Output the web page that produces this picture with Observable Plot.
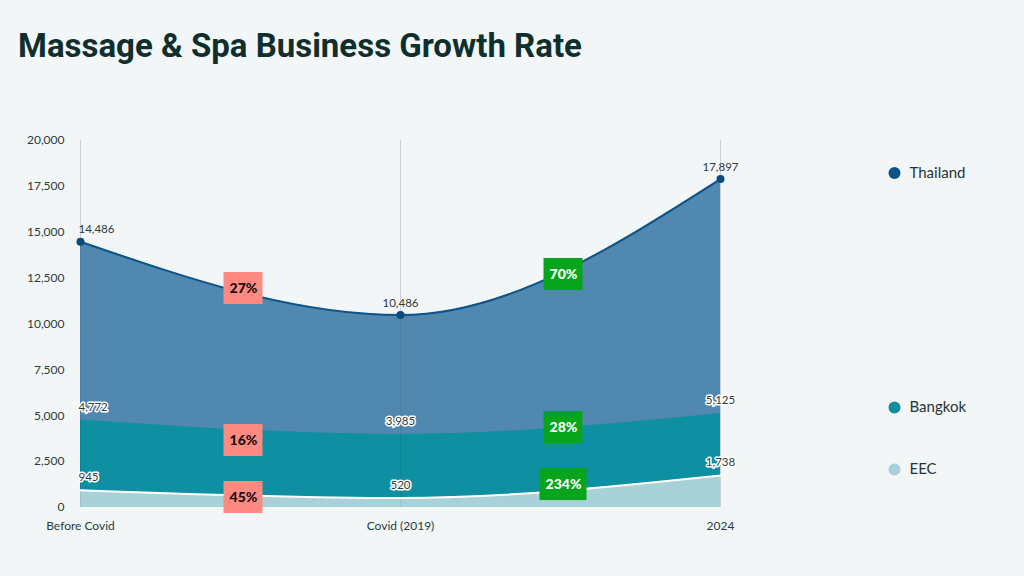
<!DOCTYPE html>
<html>
<head>
<meta charset="utf-8">
<script src="https://cdn.jsdelivr.net/npm/d3@7"></script>
<script src="https://cdn.jsdelivr.net/npm/@observablehq/plot@0.6"></script>
<style>
  html, body { margin: 0; padding: 0; background: #f2f6f7; }
  body { width: 1024px; height: 576px; overflow: hidden; }
  #title { height: 100px; box-sizing: border-box; padding: 26px 0 0 18px; margin: 0;
    font-family: Roboto, sans-serif; font-weight: 700; font-size: 33px; color: #0e2f2e; line-height: 40px; }
  #chart svg { display: block; }
</style>
</head>
<body>
<h1 id="title">Massage &amp; Spa Business Growth Rate</h1>
<div id="chart"></div>
<script>
const periods = ["Before Covid", "Covid (2019)", "2024"];
const thailand = [14486, 10486, 17897];
const bangkok = [4772, 3985, 5125];
const eec = [945, 520, 1738];
const seriesNames = ["Thailand", "Bangkok", "EEC"];
const seriesColors = ["#0b5389", "#0e8f9e", "#a8d1d8"];
// growth-rate badges between periods: [before→covid, covid→2024]
const changeLabels = [["27%", "70%"], ["16%", "28%"], ["45%", "234%"]];
const changeDown = [[true, false], [true, false], [true, false]];
// vertical level (in values) where each badge sits
const changeLevels = [[11935, 12700], [3650, 4360], [545, 1250]];
const yTicks = [0, 2500, 5000, 7500, 10000, 12500, 15000, 17500, 20000];

const W = 1024, H = 476, mt = 40, mb = 69, ml = 80, mr = 304;
const xUnitPx = (W - ml - mr) / (periods.length - 1);
const yPerPx = 20000 / (H - mt - mb);

const rows = periods.map((p, i) => ({i, period: p, thailand: thailand[i], bangkok: bangkok[i], eec: eec[i]}));
const series = [thailand, bangkok, eec];

const badges = [];
changeLabels.forEach((pair, s) => pair.forEach((lab, k) => {
  const hw = (15 + 8 * lab.length) / 2;
  badges.push({label: lab, down: changeDown[s][k], x: k + 0.5, y: changeLevels[s][k],
    x1: k + 0.5 - hw / xUnitPx, x2: k + 0.5 + hw / xUnitPx,
    y1: changeLevels[s][k] - 16 * yPerPx, y2: changeLevels[s][k] + 16 * yPerPx});
}));

const valueLabels = [];
series.forEach((vals, s) => vals.forEach((v, i) => valueLabels.push({s, i, v})));

const legend = seriesNames.map((n, s) => ({name: n, color: seriesColors[s], v: series[s][series[s].length - 1], i: periods.length - 1}));

const fmt = d3.format(",");
const labelText = d => fmt(d.v);

const chart = Plot.plot({
  width: W, height: H,
  marginTop: mt, marginBottom: mb, marginLeft: ml, marginRight: mr,
  style: {fontFamily: "Lato, sans-serif", background: "transparent", color: "#2a3b3b"},
  x: {type: "linear", domain: [0, periods.length - 1]},
  y: {domain: [0, 20000]},
  marks: [
    Plot.axisX(periods.map((p, i) => i), {tickFormat: i => periods[i], tickSize: 0, tickPadding: 14,
      label: null, fontSize: 12, fill: "#2a3b3b"}),
    Plot.axisY(yTicks, {tickFormat: fmt, tickSize: 0, tickPadding: 16, label: null, fontSize: 12, fill: "#2a3b3b"}),
    Plot.ruleX(periods.map((p, i) => i), {stroke: "#000", strokeOpacity: 0.09, y1: 0, y2: 20000}),
    Plot.areaY(rows, {x: "i", y: "thailand", fill: "#5088b0", curve: "monotone-x"}),
    Plot.areaY(rows, {x: "i", y: "bangkok", fill: "#0e8fa2", curve: "monotone-x"}),
    Plot.areaY(rows, {x: "i", y: "eec", fill: "#a9d1d8", curve: "monotone-x"}),
    Plot.ruleX(periods.map((p, i) => i), {stroke: "#000", strokeOpacity: 0.07, y1: 0, y2: 20000}),
    Plot.lineY(rows, {x: "i", y: "eec", stroke: "#ffffff", strokeWidth: 2, curve: "monotone-x"}),
    Plot.lineY(rows, {x: "i", y: "thailand", stroke: "#0b5389", strokeWidth: 2, curve: "monotone-x"}),
    Plot.dot(rows, {x: "i", y: "thailand", fill: "#0b4a7c", r: 4}),
    // Thailand labels (no halo)
    Plot.text(valueLabels.filter(d => d.s === 0 && d.i === 0), {x: "i", y: "v", text: labelText, dy: -12, dx: -2,
      textAnchor: "start", fill: "#2f3a3a", fontSize: 11.5}),
    Plot.text(valueLabels.filter(d => d.s === 0 && d.i > 0), {x: "i", y: "v", text: labelText, dy: -12,
      textAnchor: "middle", fill: "#2f3a3a", fontSize: 11.5}),
    // Bangkok / EEC labels (white halo)
    Plot.text(valueLabels.filter(d => d.s > 0 && d.i === 0), {x: "i", y: "v", text: labelText, dy: -13, dx: -2,
      textAnchor: "start", fill: "#2f3a3a", stroke: "#ffffff", strokeWidth: 3, fontSize: 11.5}),
    Plot.text(valueLabels.filter(d => d.s > 0 && d.i > 0), {x: "i", y: "v", text: labelText, dy: -13,
      textAnchor: "middle", fill: "#2f3a3a", stroke: "#ffffff", strokeWidth: 3, fontSize: 11.5}),
    Plot.rect(badges, {x1: "x1", x2: "x2", y1: "y1", y2: "y2", dx: 3, fill: d => d.down ? "#ff8a82" : "#07a51c"}),
    Plot.text(badges, {x: "x", y: "y", text: "label", dx: 3, fill: d => d.down ? "#111111" : "#ffffff",
      fontWeight: 900, fontSize: 14}),
    Plot.dot(legend, {x: "i", y: "v", dx: 174, dy: -6, r: 6, fill: "color"}),
    Plot.text(legend, {x: "i", y: "v", text: "name", dx: 189, dy: -6, textAnchor: "start",
      fill: "#1f3535", fontSize: 15})
  ]
});
document.getElementById("chart").appendChild(chart);
</script>
</body>
</html>
